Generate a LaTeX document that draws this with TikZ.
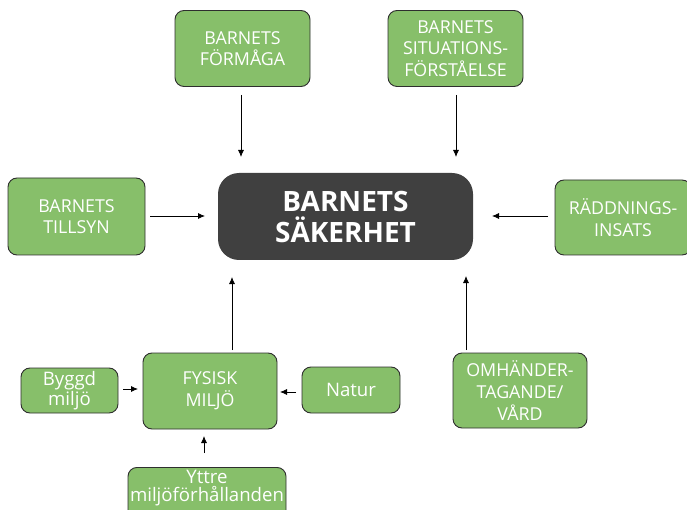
\documentclass[tikz,border=0pt]{standalone}
\usepackage{fontspec}
\setmainfont{Open Sans}
\usetikzlibrary{arrows.meta}
\definecolor{boxgreen}{HTML}{87BF6A}
\definecolor{boxedge}{HTML}{2E2E2E}
\definecolor{hubfill}{HTML}{404040}
\begin{document}
\begin{tikzpicture}[x=1pt,y=-1pt,
  factor/.style={draw=boxedge,line width=0.9pt,fill=boxgreen,rounded corners=9pt,
    text=white,align=center,inner sep=0pt,font=\fontsize{17.8}{21.6}\selectfont},
  smallfactor/.style={factor,font=\fontsize{18.6}{17.5}\selectfont},
  hub/.style={fill=hubfill,rounded corners=21pt,text=white,align=center,inner sep=0pt,
    font=\fontsize{28}{31}\selectfont\bfseries},
  link/.style={line width=0.8pt,-{Latex[length=7pt,width=6pt]}}]
\useasboundingbox (0,0) rectangle (687,510);
% central node
\node[hub,minimum width=255pt,minimum height=87pt] (hub) at (345.5,216.5) {BARNETS\\SÄKERHET};
% surrounding factors
\node[factor,minimum width=135pt,minimum height=76pt] (form) at (242.5,48.5) {BARNETS\\FÖRMÅGA};
\node[factor,minimum width=135pt,minimum height=76pt] (sit) at (455.5,48.5) {BARNETS\\SITUATIONS-\\FÖRSTÅELSE};
\node[factor,minimum width=137pt,minimum height=77pt] (tills) at (76.5,216.5) {BARNETS\\TILLSYN};
\node[factor,minimum width=136pt,minimum height=75pt] (radd) at (623,217.5) {RÄDDNINGS-\\INSATS};
\node[factor,minimum width=134pt,minimum height=75pt] (omh) at (520,390.5) {OMHÄNDER-\\TAGANDE/\\VÅRD};
\node[factor,minimum width=134pt,minimum height=76pt] (fys) at (210,391) {FYSISK\\MILJÖ};
\node[smallfactor,minimum width=97pt,minimum height=45pt] (bygg) at (69.5,390.5) {Byggd\\miljö};
\node[smallfactor,minimum width=98pt,minimum height=46pt] (natur) at (351,390) {Natur};
% outer conditions: box runs past the lower edge, text placed by its last baseline
\node[factor,minimum width=158pt,minimum height=60pt,anchor=north] (yttrebox) at (207,467) {};
\node[smallfactor,draw=none,fill=none,anchor=base] (yttre) at (207,501) {Yttre\\miljöförhållanden};
% connectors with free ends
\coordinate (formS) at (241,95);
\coordinate (sitS) at (456,95);
\coordinate (tillsS) at (150,216);
\coordinate (raddS) at (548,216);
\coordinate (omhS) at (466,350);
\coordinate (fysS) at (232,350);
\coordinate (byggS) at (123,389);
\coordinate (naturS) at (296,392);
\coordinate (yttreS) at (204,453);
\draw[link] (formS) -- (241,157);
\draw[link] (sitS) -- (456,157);
\draw[link] (tillsS) -- (205,216);
\draw[link] (raddS) -- (492,216);
\draw[link] (omhS) -- (466,276);
\draw[link] (fysS) -- (232,277);
\draw[link] (byggS) -- (138,389);
\draw[link] (naturS) -- (280,392);
\draw[link] (yttreS) -- (204,436);
\end{tikzpicture}
\end{document}
